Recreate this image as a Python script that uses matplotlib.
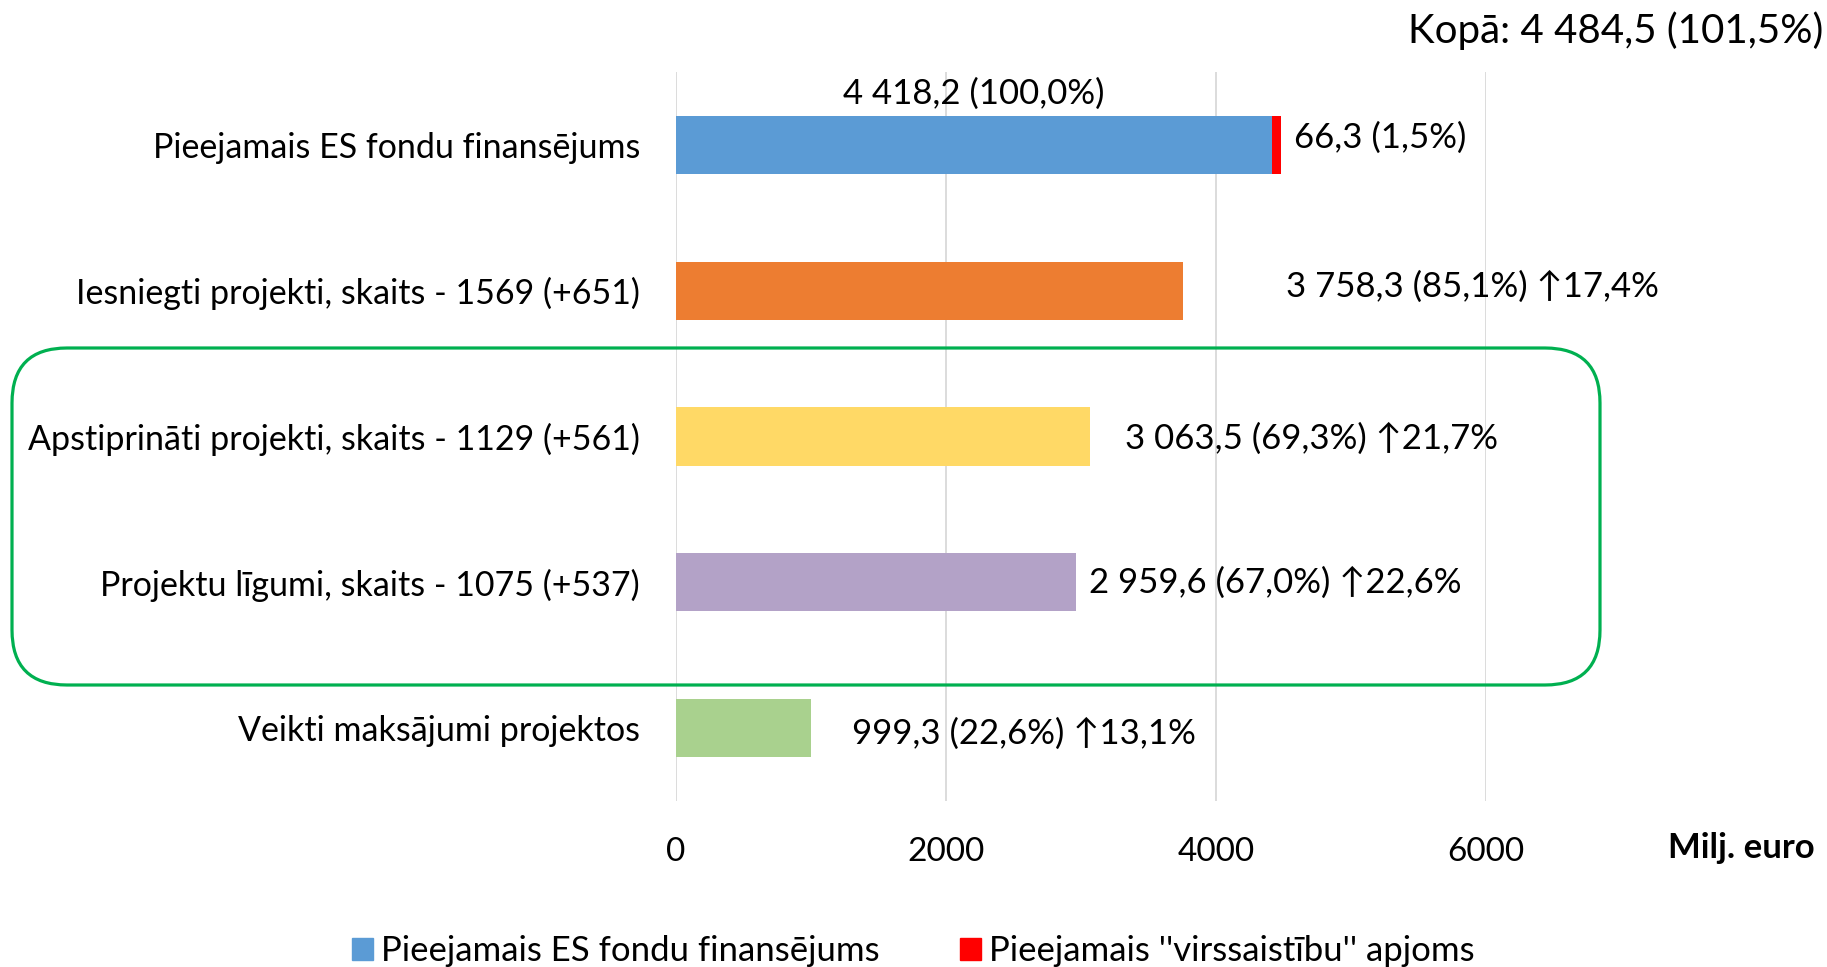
import numpy as np
import matplotlib
matplotlib.use('Agg')
import matplotlib.pyplot as plt
from matplotlib.patches import FancyBboxPatch, Patch

plt.rcParams['font.family'] = ['Lato', 'DejaVu Sans']

categories = ['Pieejamais ES fondu finansējums',
              'Iesniegti projekti, skaits - 1569 (+651)',
              'Apstiprināti projekti, skaits - 1129 (+561)',
              'Projektu līgumi, skaits - 1075 (+537)',
              'Veikti maksājumi projektos']
values = [4418.2, 3758.3, 3063.5, 2959.6, 999.3]
over_commit = 66.3
total = 4484.5
value_labels = ['4 418,2 (100,0%)',
                '3 758,3 (85,1%) \u219117,4%',
                '3 063,5 (69,3%) \u219121,7%',
                '2 959,6 (67,0%) \u219122,6%',
                '999,3 (22,6%) \u219113,1%']
over_label = '66,3 (1,5%)'
total_label = 'Kopā: 4 484,5 (101,5%)'
legend_labels = ['Pieejamais ES fondu finansējums', "Pieejamais ''virssaistību'' apjoms"]

colors = ['#5B9BD5', '#ED7D31', '#FFD966', '#B3A2C7', '#A9D18E']
red = '#FF0000'
fs = 25

W, H = 1827, 967
fig = plt.figure(figsize=(W / 100, H / 100), dpi=100)
ax = fig.add_axes([676 / W, 1 - 801 / H, (1486 - 676) / W, (801 - 72) / H])

y = np.arange(len(categories))
ax.barh(y, values, height=0.4, color=colors, zorder=3)
ax.barh(y[0], over_commit, left=values[0], height=0.4, color=red, zorder=3)
ax.set_ylim(len(categories) - 0.5, -0.5)
ax.set_xlim(0, 6000)
ax.set_xticks([0, 2000, 4000, 6000])
ax.set_yticks(y)
ax.set_yticklabels(categories, fontsize=24.5)
ax.tick_params(axis='x', labelsize=fs - 1, length=0, pad=26)
ax.tick_params(axis='y', length=0, pad=26)
ax.grid(axis='x', color='#D9D9D9', linewidth=1.3, zorder=0)
for s in ax.spines.values():
    s.set_visible(False)

# value labels (offset in pixels from bar end, manual like the original)
label_dx = [0, 103, 35, 13, 41]
label_dy = [0, 4, -2, 0, -6]
ax.annotate(value_labels[0], xy=(values[0] / 2, 0), xytext=(0, 51), textcoords='offset pixels',
            ha='center', va='center', fontsize=fs)
ax.annotate(over_label, xy=(values[0] + over_commit, 0), xytext=(13, 7), textcoords='offset pixels',
            ha='left', va='center', fontsize=fs)
for i in range(1, len(values)):
    ax.annotate(value_labels[i], xy=(values[i], i), xytext=(label_dx[i], label_dy[i]),
                textcoords='offset pixels', ha='left', va='center', fontsize=fs)

fig.text(1823 / W, 1 - 31 / H, total_label, ha='right', va='center', fontsize=29)
fig.text(1815 / W, 1 - 848 / H, 'Milj. euro', ha='right', va='center', fontsize=fs, fontweight='bold')

# legend
handles = [Patch(color=colors[0]), Patch(color=red)]
fig.legend(handles, legend_labels, loc='center', bbox_to_anchor=(0.5, 1 - 951 / H), ncol=2,
           frameon=False, fontsize=fs, handlelength=0.6, handleheight=0.6, handletextpad=0.25,
           columnspacing=2.3)

# green rounded box around approved/contract rows
over = fig.add_axes([0, 0, 1, 1], zorder=5)
over.set_xlim(0, W)
over.set_ylim(H, 0)
over.axis('off')
over.patch.set_alpha(0)
box = FancyBboxPatch((12, 348), 1600 - 12, 685 - 348, boxstyle='round,pad=0,rounding_size=55',
                     fill=False, edgecolor='#00B050', linewidth=2.3)
over.add_patch(box)

fig.savefig('out.png', dpi=100)
